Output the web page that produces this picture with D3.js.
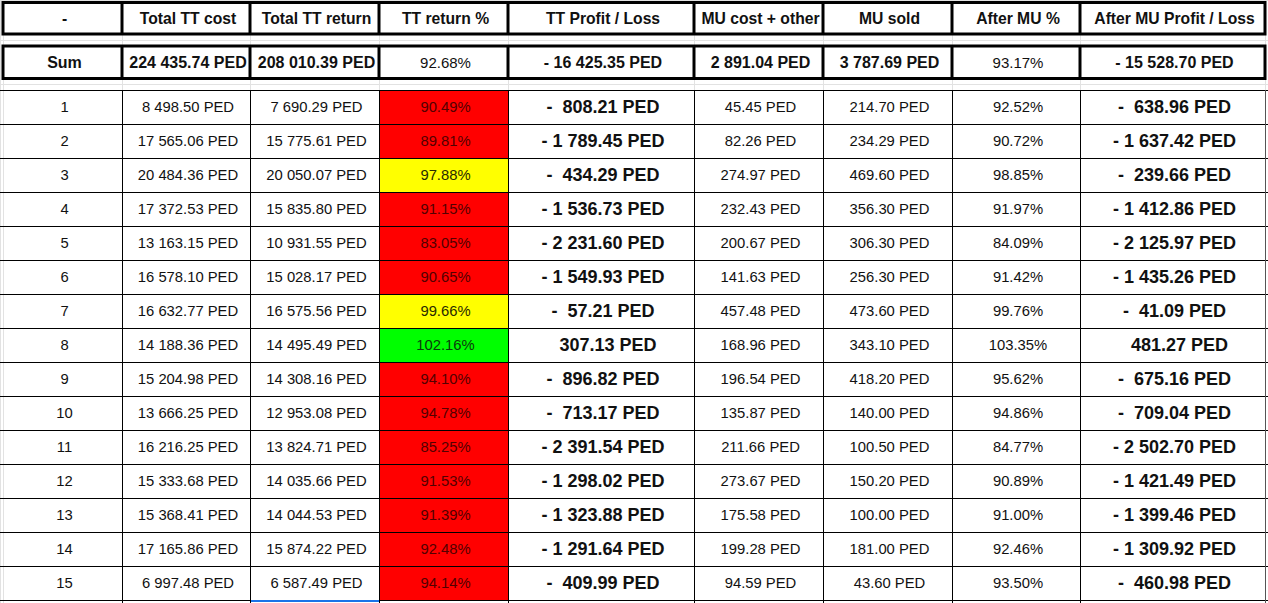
<!DOCTYPE html>
<html>
<head>
<meta charset="utf-8">
<script src="https://cdn.jsdelivr.net/npm/d3@7"></script>
<style>
  body { margin: 0; background: #fff; }
  text { font-family: "Liberation Sans", Arial, sans-serif; white-space: pre; }
</style>
</head>
<body>
<div id="table"></div>
<script>
// column headers
const headers = ["-", "Total TT cost", "Total TT return", "TT return %", "TT Profit / Loss",
  "MU cost + other", "MU sold", "After MU %", "After MU Profit / Loss"];

// sum row
const sumRow = ["Sum", 224435.74, 208010.39, 92.68, -16425.35, 2891.04, 3787.69, 93.17, -15528.70];

// per-session rows
const rowLabels = ["1","2","3","4","5","6","7","8","9","10","11","12","13","14","15"];
const ttCost = [8498.50, 17565.06, 20484.36, 17372.53, 13163.15, 16578.10, 16632.77, 14188.36,
  15204.98, 13666.25, 16216.25, 15333.68, 15368.41, 17165.86, 6997.48];
const ttReturn = [7690.29, 15775.61, 20050.07, 15835.80, 10931.55, 15028.17, 16575.56, 14495.49,
  14308.16, 12953.08, 13824.71, 14035.66, 14044.53, 15874.22, 6587.49];
const ttReturnPct = [90.49, 89.81, 97.88, 91.15, 83.05, 90.65, 99.66, 102.16,
  94.10, 94.78, 85.25, 91.53, 91.39, 92.48, 94.14];
const ttProfit = [-808.21, -1789.45, -434.29, -1536.73, -2231.60, -1549.93, -57.21, 307.13,
  -896.82, -713.17, -2391.54, -1298.02, -1323.88, -1291.64, -409.99];
const muCost = [45.45, 82.26, 274.97, 232.43, 200.67, 141.63, 457.48, 168.96,
  196.54, 135.87, 211.66, 273.67, 175.58, 199.28, 94.59];
const muSold = [214.70, 234.29, 469.60, 356.30, 306.30, 256.30, 473.60, 343.10,
  418.20, 140.00, 100.50, 150.20, 100.00, 181.00, 43.60];
const afterMuPct = [92.52, 90.72, 98.85, 91.97, 84.09, 91.42, 99.76, 103.35,
  95.62, 94.86, 84.77, 90.89, 91.00, 92.46, 93.50];
const afterMuProfit = [-638.96, -1637.42, -239.66, -1412.86, -2125.97, -1435.26, -41.09, 481.27,
  -675.16, -709.04, -2502.70, -1421.49, -1399.46, -1309.92, -460.98];

const width = 1268, height = 603;
const colEdges = [3, 122, 250, 379, 508, 694, 823, 952, 1080, 1265];

const num = v => d3.format(",.2f")(v).replace(/,/g, " ");
const ped = v => num(v) + " PED";
const pct = v => d3.format(".2f")(v) + "%";
const sumProfit = v => (v < 0 ? "- " : "") + ped(Math.abs(v));
const rowProfit = v => v < 0
  ? "- " + (Math.abs(v) < 1000 ? " " : "") + ped(-v)
  : "  " + ped(v);

const pctColor = v => v >= 100 ? "#00ff00" : v >= 97 ? "#ffff00" : "#ff0000";
const pctText = v => v >= 100 ? "#0c3a0c" : v >= 97 ? "#2a2a00" : "#520000";

const svg = d3.select("#table").append("svg")
  .attr("width", width)
  .attr("height", height);

const y = d3.scaleBand().domain(rowLabels).range([90, 600]);
const rowH = y.bandwidth();
const cx = i => (colEdges[i] + colEdges[i + 1]) / 2 + 2;

// light spreadsheet grid
const grid = svg.append("g").attr("stroke", "#e2e2e2").attr("stroke-width", 1);
grid.selectAll("line.v").data(colEdges).join("line")
  .attr("x1", d => d + 0.5).attr("x2", d => d + 0.5).attr("y1", 0).attr("y2", height);
grid.append("line").attr("x1", 0.5).attr("x2", 0.5).attr("y1", 0).attr("y2", height);
grid.selectAll("line.h").data([0.5, 40.5, 84.5]).join("line")
  .attr("x1", 0).attr("x2", width).attr("y1", d => d).attr("y2", d => d);

// data rows
const rows = rowLabels.map((r, i) => [r, ttCost[i], ttReturn[i], ttReturnPct[i], ttProfit[i],
  muCost[i], muSold[i], afterMuPct[i], afterMuProfit[i]]);

const body = svg.append("g");
body.selectAll("rect.pct").data(rows).join("rect")
  .attr("x", colEdges[3]).attr("width", colEdges[4] - colEdges[3])
  .attr("y", d => y(d[0])).attr("height", rowH)
  .attr("fill", d => pctColor(d[3]));

// thin borders
const thin = body.append("g").attr("stroke", "#000").attr("stroke-width", 1);
thin.selectAll("line.h").data(d3.range(rowLabels.length + 1)).join("line")
  .attr("x1", 0).attr("x2", width)
  .attr("y1", i => 90 + i * rowH + 0.5).attr("y2", i => 90 + i * rowH + 0.5);
thin.selectAll("line.v").data(colEdges.slice(1, -1)).join("line")
  .attr("x1", d => d + 0.5).attr("x2", d => d + 0.5).attr("y1", 90).attr("y2", height);
thin.append("line").attr("x1", 1265.5).attr("x2", 1265.5).attr("y1", 90).attr("y2", height)
  .attr("stroke", "#555");

const fmtCell = (d, j) => {
  if (j === 0) return d;
  if (j === 3 || j === 7) return pct(d);
  if (j === 4 || j === 8) return rowProfit(d);
  return ped(d);
};

body.selectAll("g.row").data(rows).join("g")
  .attr("transform", d => `translate(0,${y(d[0]) + rowH / 2})`)
  .selectAll("text").data(d => d.map((v, j) => ({ v, j }))).join("text")
  .attr("x", c => cx(c.j))
  .attr("text-anchor", "middle")
  .attr("dominant-baseline", "central")
  .style("font-size", c => (c.j === 4 || c.j === 8) ? "18px" : "14.8px")
  .style("font-weight", c => (c.j === 4 || c.j === 8) ? "bold" : "normal")
  .attr("fill", c => c.j === 3 ? pctText(c.v) : "#111")
  .text(c => fmtCell(c.v, c.j));

// selected cell marker
svg.append("line")
  .attr("x1", colEdges[2] + 1).attr("x2", colEdges[3])
  .attr("y1", 601).attr("y2", 601)
  .attr("stroke", "#1a73e8").attr("stroke-width", 2);

// header and sum rows with thick borders
function thickRow(cells, top, bottom, fmt, weight, size) {
  const g = svg.append("g");
  g.append("rect").attr("x", colEdges[0]).attr("y", top)
    .attr("width", colEdges[9] - colEdges[0]).attr("height", bottom - top)
    .attr("fill", "#fff").attr("stroke", "#000").attr("stroke-width", 3);
  g.selectAll("line").data(colEdges.slice(1, -1)).join("line")
    .attr("x1", d => d).attr("x2", d => d).attr("y1", top).attr("y2", bottom)
    .attr("stroke", "#000").attr("stroke-width", 3);
  g.selectAll("text").data(cells).join("text")
    .attr("x", (d, j) => cx(j))
    .attr("y", (top + bottom) / 2)
    .attr("text-anchor", "middle")
    .attr("dominant-baseline", "central")
    .style("font-size", (d, j) => size(j))
    .style("font-weight", (d, j) => weight(j))
    .attr("fill", "#111")
    .text((d, j) => fmt(d, j));
}

thickRow(headers, 2.5, 34, d => d, () => "bold", () => "15.7px");
thickRow(sumRow, 46, 78.5, (d, j) => {
  if (j === 0) return d;
  if (j === 3 || j === 7) return pct(d);
  if (j === 4 || j === 8) return sumProfit(d);
  return ped(d);
}, j => (j === 3 || j === 7) ? "normal" : "bold",
   j => (j === 3 || j === 7) ? "15px" : "16px");
</script>
</body>
</html>
